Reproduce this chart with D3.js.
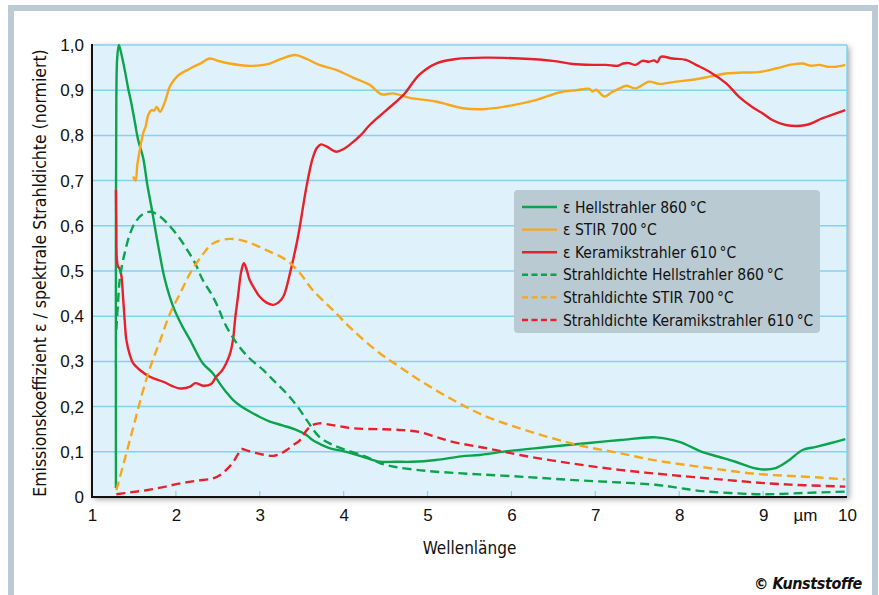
<!DOCTYPE html>
<html>
<head>
<meta charset="utf-8">
<script src="https://cdn.jsdelivr.net/npm/d3@7"></script>
<style>
  html, body { margin: 0; padding: 0; background: #fff; }
  svg { display: block; font-family: "Liberation Sans Narrow", "DejaVu Sans Condensed", sans-serif; }
</style>
</head>
<body>
<svg id="chart"></svg>
<script>
const width = 879;
const height = 595;
const margin = { top: 45, right: 32, bottom: 98, left: 92 };

// [wavelength in µm, normalised value]
const epsHell = [[1.285,0.02],[1.285,0.6],[1.29,0.88],[1.30,0.97],[1.32,1.0],[1.35,0.98],[1.39,0.945],[1.43,0.905],[1.47,0.87],[1.51,0.83],[1.55,0.79],[1.61,0.75],[1.66,0.69],[1.71,0.64],[1.79,0.555],[1.87,0.48],[1.97,0.42],[2.07,0.38],[2.17,0.347],[2.32,0.296],[2.44,0.274],[2.52,0.252],[2.6,0.232],[2.68,0.215],[2.78,0.2],[2.88,0.189],[3.0,0.177],[3.12,0.167],[3.28,0.158],[3.44,0.148],[3.55,0.138],[3.63,0.126],[3.73,0.116],[3.83,0.108],[4.03,0.1],[4.23,0.089],[4.43,0.078],[4.62,0.078],[4.82,0.078],[5.1,0.082],[5.4,0.09],[5.62,0.093],[5.98,0.102],[6.4,0.11],[6.89,0.119],[7.3,0.126],[7.72,0.132],[8.0,0.122],[8.27,0.1],[8.47,0.089],[8.67,0.078],[8.85,0.066],[8.99,0.061],[9.15,0.064],[9.3,0.08],[9.47,0.104],[9.63,0.111],[9.8,0.119],[9.98,0.128]];
const epsStir = [[1.49,0.709],[1.52,0.7],[1.54,0.735],[1.57,0.768],[1.61,0.805],[1.64,0.82],[1.67,0.845],[1.71,0.856],[1.74,0.855],[1.77,0.863],[1.81,0.852],[1.85,0.865],[1.89,0.886],[1.92,0.905],[1.95,0.915],[2.03,0.933],[2.17,0.948],[2.3,0.96],[2.4,0.97],[2.52,0.964],[2.64,0.959],[2.84,0.954],[3.0,0.955],[3.12,0.959],[3.24,0.968],[3.42,0.978],[3.55,0.97],[3.71,0.956],[3.91,0.945],[4.11,0.928],[4.31,0.912],[4.45,0.891],[4.59,0.893],[4.79,0.883],[5.1,0.875],[5.42,0.86],[5.66,0.858],[5.9,0.863],[6.29,0.878],[6.57,0.895],[6.77,0.9],[6.93,0.903],[6.97,0.897],[7.01,0.901],[7.11,0.886],[7.2,0.896],[7.29,0.904],[7.37,0.91],[7.48,0.904],[7.64,0.919],[7.76,0.914],[7.96,0.919],[8.16,0.923],[8.36,0.93],[8.56,0.937],[8.75,0.939],[8.95,0.94],[9.15,0.948],[9.35,0.957],[9.47,0.959],[9.57,0.954],[9.67,0.956],[9.77,0.952],[9.87,0.952],[9.98,0.956]];
const epsKeramik = [[1.285,0.68],[1.29,0.6],[1.295,0.53],[1.31,0.51],[1.33,0.505],[1.35,0.49],[1.37,0.443],[1.39,0.39],[1.41,0.347],[1.45,0.315],[1.49,0.296],[1.57,0.281],[1.69,0.266],[1.85,0.255],[1.95,0.246],[2.05,0.24],[2.17,0.244],[2.23,0.252],[2.33,0.246],[2.42,0.25],[2.48,0.266],[2.55,0.28],[2.6,0.296],[2.65,0.32],[2.68,0.347],[2.71,0.4],[2.74,0.443],[2.78,0.5],[2.81,0.517],[2.84,0.505],[2.88,0.48],[2.94,0.46],[3.0,0.443],[3.08,0.43],[3.16,0.425],[3.22,0.43],[3.28,0.443],[3.32,0.465],[3.36,0.495],[3.41,0.535],[3.46,0.58],[3.56,0.69],[3.63,0.749],[3.68,0.772],[3.73,0.78],[3.8,0.775],[3.91,0.764],[4.0,0.77],[4.07,0.779],[4.2,0.8],[4.31,0.823],[4.51,0.856],[4.71,0.889],[4.9,0.934],[5.1,0.959],[5.34,0.969],[5.7,0.972],[6.1,0.97],[6.49,0.965],[6.73,0.958],[7.0,0.956],[7.13,0.956],[7.27,0.954],[7.33,0.959],[7.4,0.96],[7.48,0.956],[7.56,0.965],[7.64,0.963],[7.7,0.966],[7.74,0.962],[7.78,0.974],[7.92,0.97],[8.08,0.967],[8.2,0.956],[8.36,0.941],[8.56,0.915],[8.71,0.886],[8.87,0.863],[9.0,0.848],[9.11,0.834],[9.27,0.823],[9.51,0.823],[9.71,0.838],[9.98,0.856]];
const radHell = [[1.29,0.37],[1.31,0.43],[1.33,0.48],[1.36,0.515],[1.39,0.54],[1.44,0.575],[1.51,0.606],[1.6,0.625],[1.7,0.631],[1.8,0.622],[1.9,0.605],[2.03,0.576],[2.13,0.548],[2.23,0.517],[2.32,0.48],[2.42,0.45],[2.5,0.421],[2.58,0.385],[2.7,0.347],[2.86,0.31],[3.04,0.281],[3.18,0.255],[3.32,0.229],[3.45,0.2],[3.56,0.17],[3.71,0.133],[3.85,0.117],[4.03,0.104],[4.27,0.089],[4.43,0.075],[4.6,0.067],[4.82,0.061],[5.1,0.056],[5.62,0.05],[6.2,0.044],[6.69,0.038],[7.2,0.033],[7.72,0.027],[8.0,0.02],[8.27,0.013],[8.6,0.009],[8.99,0.006],[9.5,0.009],[9.98,0.012]];
const radStir = [[1.29,0.015],[1.4,0.09],[1.5,0.16],[1.6,0.23],[1.7,0.29],[1.81,0.345],[1.93,0.406],[2.05,0.45],[2.17,0.495],[2.33,0.539],[2.44,0.561],[2.64,0.571],[2.84,0.565],[3.08,0.546],[3.32,0.524],[3.48,0.495],[3.63,0.458],[3.87,0.414],[4.11,0.369],[4.43,0.318],[4.65,0.29],[4.9,0.259],[5.3,0.215],[5.7,0.178],[6.1,0.152],[6.49,0.13],[6.89,0.111],[7.29,0.097],[7.68,0.082],[8.08,0.071],[8.48,0.061],[8.87,0.052],[9.27,0.047],[9.67,0.043],[9.98,0.039]];
const radKeramik = [[1.29,0.006],[1.45,0.01],[1.65,0.015],[1.85,0.022],[2.05,0.03],[2.25,0.036],[2.44,0.041],[2.54,0.05],[2.6,0.06],[2.66,0.072],[2.7,0.082],[2.74,0.095],[2.78,0.106],[2.86,0.102],[2.96,0.097],[3.06,0.093],[3.16,0.091],[3.24,0.095],[3.32,0.104],[3.4,0.115],[3.48,0.126],[3.56,0.148],[3.64,0.16],[3.71,0.163],[3.87,0.159],[4.11,0.152],[4.43,0.15],[4.7,0.148],[4.9,0.144],[5.1,0.133],[5.3,0.122],[5.7,0.108],[6.1,0.093],[6.69,0.075],[7.29,0.06],[7.88,0.049],[8.48,0.039],[9.07,0.03],[9.5,0.026],[9.98,0.023]];

const seriesNames = [
  "ε Hellstrahler 860\u2009°C",
  "ε STIR 700\u2009°C",
  "ε Keramikstrahler 610\u2009°C",
  "Strahldichte Hellstrahler 860\u2009°C",
  "Strahldichte STIR 700\u2009°C",
  "Strahldichte Keramikstrahler 610\u2009°C"
];
const xTickValues = [1, 2, 3, 4, 5, 6, 7, 8, 9, 9.5, 10];
const xTickLabels = ["1", "2", "3", "4", "5", "6", "7", "8", "9", "µm", "10"];
const yTickValues = [0, 0.1, 0.2, 0.3, 0.4, 0.5, 0.6, 0.7, 0.8, 0.9, 1.0];
const yTickLabels = ["0", "0,1", "0,2", "0,3", "0,4", "0,5", "0,6", "0,7", "0,8", "0,9", "1,0"];

const green = "#0ba34b", orange = "#f8a71c", red = "#e8202a";
const series = [
  { data: epsHell, color: green, dashed: false },
  { data: epsStir, color: orange, dashed: false },
  { data: epsKeramik, color: red, dashed: false },
  { data: radHell, color: green, dashed: true },
  { data: radStir, color: orange, dashed: true },
  { data: radKeramik, color: red, dashed: true }
];

const svg = d3.select("#chart").attr("width", width).attr("height", height);

// outer frame
svg.append("rect").attr("x", 11).attr("y", 8).attr("width", 864).attr("height", 600)
  .attr("fill", "#fff").attr("stroke", "#bccad3").attr("stroke-width", 6);

const defs = svg.append("defs");
const shadow = defs.append("filter").attr("id", "shadow")
  .attr("x", "-5%").attr("y", "-5%").attr("width", "110%").attr("height", "110%");
shadow.append("feDropShadow").attr("dx", 2).attr("dy", 2).attr("stdDeviation", 3)
  .attr("flood-color", "#444").attr("flood-opacity", 0.55);

const x = d3.scaleLinear().domain([1, 10]).range([margin.left, width - margin.right]);
const y = d3.scaleLinear().domain([0, 1]).range([height - margin.bottom, margin.top]);

const plotW = x(10) - x(1), plotH = y(0) - y(1);

svg.append("rect")
  .attr("x", x(1)).attr("y", y(1)).attr("width", plotW).attr("height", plotH)
  .attr("fill", "#dff2fb").attr("filter", "url(#shadow)");

// grid
svg.append("g").selectAll("line").data(yTickValues.slice(1)).join("line")
  .attr("x1", x(1)).attr("x2", x(10))
  .attr("y1", d => y(d)).attr("y2", d => y(d))
  .attr("stroke", "#86d0f0").attr("stroke-width", 1.5);

svg.append("line").attr("x1", x(10)).attr("x2", x(10)).attr("y1", y(1)).attr("y2", y(0))
  .attr("stroke", "#86d0f0").attr("stroke-width", 1.5);

// small ticks on the bottom axis
svg.append("g").selectAll("line").data(d3.range(2, 10)).join("line")
  .attr("x1", d => x(d)).attr("x2", d => x(d))
  .attr("y1", y(0)).attr("y2", y(0) - 6)
  .attr("stroke", "#86d0f0").attr("stroke-width", 1.2);

// curves
const line = d3.line()
  .x(d => x(d[0]))
  .y(d => y(d[1]))
  .curve(d3.curveCatmullRom.alpha(0.5));

svg.append("g").selectAll("path").data(series).join("path")
  .attr("d", d => line(d.data))
  .attr("fill", "none")
  .attr("stroke", d => d.color)
  .attr("stroke-width", 2.4)
  .attr("stroke-dasharray", d => d.dashed ? "9,5" : null)
  .attr("stroke-linejoin", "round");

// axes lines
svg.append("line").attr("x1", x(1)).attr("x2", x(1)).attr("y1", y(1) - 1).attr("y2", y(0) + 1)
  .attr("stroke", "#111").attr("stroke-width", 2);
svg.append("line").attr("x1", x(1) - 1).attr("x2", x(10)).attr("y1", y(0)).attr("y2", y(0))
  .attr("stroke", "#111").attr("stroke-width", 2);

// tick labels
const xAxis = svg.append("g")
  .attr("transform", `translate(0,${y(0)})`)
  .call(d3.axisBottom(x).tickValues(xTickValues).tickSize(0).tickPadding(12)
    .tickFormat((d, i) => xTickLabels[i]));
xAxis.select(".domain").remove();
xAxis.selectAll("text").attr("fill", "#111").style("font-size", "17px")
  .style("font-family", "inherit");

const yAxis = svg.append("g")
  .attr("transform", `translate(${x(1)},0)`)
  .call(d3.axisLeft(y).tickValues(yTickValues).tickSize(0).tickPadding(8)
    .tickFormat((d, i) => yTickLabels[i]));
yAxis.select(".domain").remove();
yAxis.selectAll("text").attr("fill", "#111").style("font-size", "17px")
  .style("font-family", "inherit");

// axis titles
svg.append("text")
  .attr("x", (x(1) + x(10)) / 2).attr("y", 554)
  .attr("text-anchor", "middle").attr("fill", "#111")
  .style("font-size", "17px")
  .text("Wellenlänge");

svg.append("text")
  .attr("transform", `translate(46,${(y(0) + y(1)) / 2 + 2}) rotate(-90)`)
  .attr("text-anchor", "middle").attr("fill", "#111")
  .style("font-size", "17.5px")
  .text("Emissionskoeffizient ε / spektrale Strahldichte (normiert)");

// legend
const legend = svg.append("g").attr("transform", "translate(514,190)");
legend.append("rect").attr("width", 306).attr("height", 143).attr("rx", 4)
  .attr("fill", "#b9cad3");
const rows = legend.selectAll("g.row").data(series).join("g")
  .attr("class", "row")
  .attr("transform", (d, i) => `translate(0,${17 + i * 22.6})`);
rows.append("line").attr("x1", 8).attr("x2", 43)
  .attr("stroke", d => d.color).attr("stroke-width", 2.4)
  .attr("stroke-dasharray", d => d.dashed ? "6,3.5" : null);
rows.append("text").attr("x", 49).attr("dy", "0.36em")
  .attr("fill", "#111").style("font-size", "15.5px")
  .text((d, i) => seriesNames[i]);

svg.append("text")
  .attr("x", 862).attr("y", 589).attr("text-anchor", "end")
  .attr("fill", "#111").style("font-size", "16px")
  .style("font-weight", "bold").style("font-style", "italic")
  .style("letter-spacing", "-0.4px")
  .text("© Kunststoffe");
</script>
</body>
</html>
